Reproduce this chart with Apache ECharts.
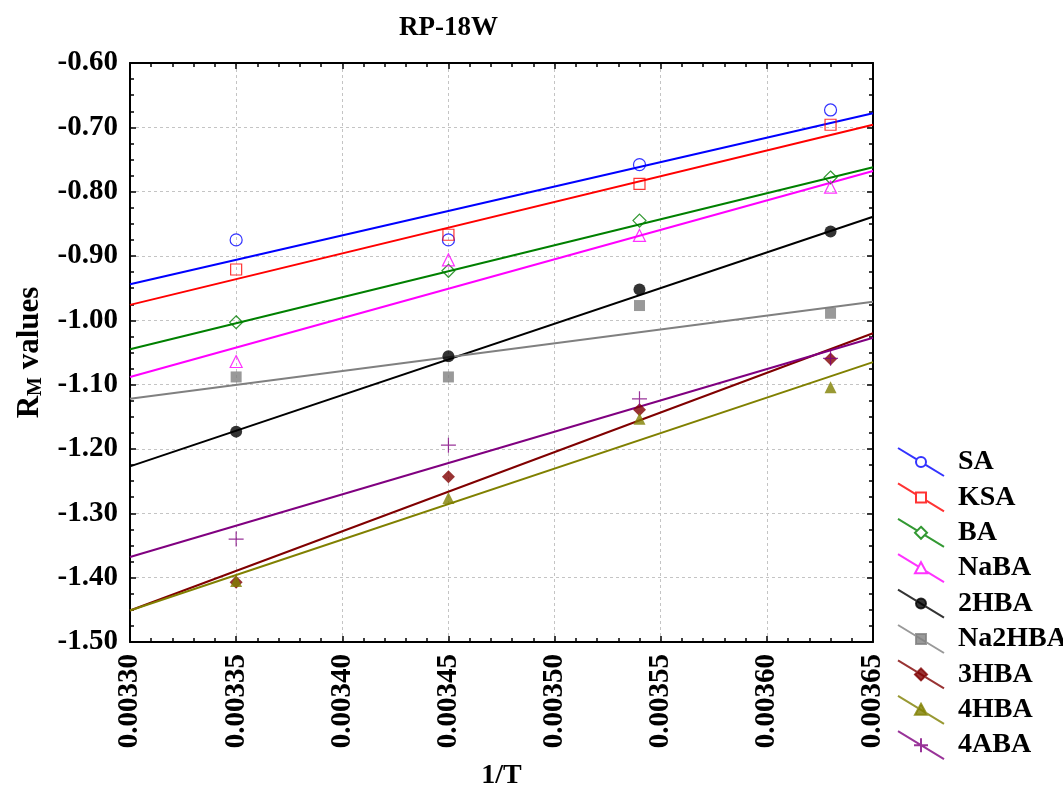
<!DOCTYPE html>
<html>
<head>
<meta charset="utf-8">
<title>RP-18W</title>
<script src="https://cdn.jsdelivr.net/npm/echarts@6/dist/echarts.min.js"></script>
<style>
  html, body { margin: 0; padding: 0; background: #ffffff; }
  #chart { width: 1063px; height: 789px; }
</style>
</head>
<body>
<div id="chart"></div>
<script>
// 1/T values where R_M was measured
const invT = [0.00335, 0.00345, 0.00354, 0.00363];

// Measured R_M values, one array per compound
const SA     = [-0.875, -0.875, -0.758, -0.673];
const KSA    = [-0.921, -0.867, -0.788, -0.696];
const BA     = [-1.003, -0.923, -0.845, -0.778];
const NaBA   = [-1.064, -0.906, -0.868, -0.793];
const HBA2   = [-1.173, -1.056, -0.952, -0.862];
const Na2HBA = [-1.088, -1.088, -0.977, -0.989];
const HBA3   = [-1.407, -1.243, -1.139, -1.060];
const HBA4   = [-1.405, -1.276, -1.153, -1.104];
const ABA4   = [-1.340, -1.194, -1.122, -1.059];

// Fitted straight lines: R_M at both ends of the 1/T range
const fitX = [0.00330, 0.00365];
const SA_fit     = [-0.944, -0.678];
const KSA_fit    = [-0.976, -0.696];
const BA_fit     = [-1.045, -0.762];
const NaBA_fit   = [-1.088, -0.768];
const HBA2_fit   = [-1.227, -0.839];
const Na2HBA_fit = [-1.122, -0.971];
const HBA3_fit   = [-1.451, -1.020];
const HBA4_fit   = [-1.451, -1.065];
const ABA4_fit   = [-1.368, -1.027];

const names = ['SA', 'KSA', 'BA', 'NaBA', '2HBA', 'Na2HBA', '3HBA', '4HBA', '4ABA'];
const points = [SA, KSA, BA, NaBA, HBA2, Na2HBA, HBA3, HBA4, ABA4];
const fits = [SA_fit, KSA_fit, BA_fit, NaBA_fit, HBA2_fit, Na2HBA_fit, HBA3_fit, HBA4_fit, ABA4_fit];

const xTicks = { min: 0.00330, max: 0.00365, step: 0.00005 };
const yTicks = { min: -1.50, max: -0.60, step: 0.10 };

// Drawing styles per compound
const styles = [
  { color: '#0000ff', symbol: 'circle',  hollow: true },
  { color: '#ff0000', symbol: 'rect',    hollow: true },
  { color: '#008000', symbol: 'diamond', hollow: true },
  { color: '#ff00ff', symbol: 'triangle', hollow: true },
  { color: '#000000', symbol: 'circle',  hollow: false },
  { color: '#808080', symbol: 'rect',    hollow: false },
  { color: '#800000', symbol: 'diamond', hollow: false },
  { color: '#808000', symbol: 'triangle', hollow: false },
  { color: '#800080', symbol: 'cross',   hollow: true }
];

const crossPath = 'path://M0 7 L14 7 M7 0 L7 14';
const symbolSizes = { circle: 12, rect: 11, diamond: 13, triangle: 12, cross: 15 };

// Legend icons: a slanted line with the marker in the middle (46 x 28 box)
const legendIcons = {
  circle_h: 'path://M0 0 L18.73 11.40 M27.27 16.60 L46 28 M28 14 A5 5 0 1 1 18 14 A5 5 0 1 1 28 14 Z',
  circle_f: 'path://M0 0 L46 28 M28 14 A5 5 0 1 1 18 14 A5 5 0 1 1 28 14 Z',
  rect_h: 'path://M0 0 L18 10.96 M28 17.04 L46 28 M18 9 L28 9 L28 19 L18 19 Z',
  rect_f: 'path://M0 0 L46 28 M18 9 L28 9 L28 19 L18 19 Z',
  diamond_h: 'path://M0 0 L19.27 11.73 M26.73 16.27 L46 28 M23 8 L29 14 L23 20 L17 14 Z',
  diamond_f: 'path://M0 0 L46 28 M23 8 L29 14 L23 20 L17 14 Z',
  triangle_h: 'path://M0 0 L20.54 12.50 M27.90 16.98 L46 28 M23 8 L29 19 L17 19 Z',
  triangle_f: 'path://M0 0 L46 28 M23 8 L29 19 L17 19 Z',
  cross_h: 'path://M0 0 L46 28 M16 14 L30 14 M23 7 L23 21'
};

const FONT = 'Liberation Serif';
const textBase = { fontFamily: FONT, fontWeight: 'bold', color: '#000000' };

const series = [];
const legendData = [];

names.forEach(function (name, i) {
  const st = styles[i];
  const sym = st.symbol === 'cross' ? crossPath : st.symbol;
  series.push({
    name: name,
    type: 'scatter',
    z: 4,
    symbol: sym,
    symbolSize: symbolSizes[st.symbol],
    itemStyle: {
      color: st.hollow ? 'transparent' : st.color,
      borderColor: st.color,
      borderWidth: st.hollow ? 1.2 : 0
    },
    data: invT.map(function (x, k) { return [x, points[i][k]]; })
  });
  series.push({
    name: name,
    type: 'line',
    z: 3,
    showSymbol: false,
    symbol: 'none',
    lineStyle: { color: st.color, width: 2 },
    itemStyle: { color: st.color },
    data: fitX.map(function (x, k) { return [x, fits[i][k]]; })
  });
  const key = st.symbol + (st.hollow ? '_h' : '_f');
  legendData.push({
    name: name,
    icon: legendIcons[key],
    itemStyle: {
      color: st.hollow ? '#ffffff' : st.color,
      borderColor: st.color,
      borderWidth: 2
    }
  });
});

const gridLine = { show: true, lineStyle: { color: '#c4c4c4', type: [3, 3], width: 1 } };
const axisLineStyle = { show: true, lineStyle: { color: '#000000', width: 2 } };
const tickStyle = { color: '#000', width: 1.5 };

const chart = echarts.init(document.getElementById('chart'), null, { renderer: 'canvas' });
chart.setOption({
  animation: false,
  backgroundColor: '#ffffff',
  title: {
    text: 'RP-18W',
    left: 394,
    top: 10,
    textStyle: Object.assign({ fontSize: 27 }, textBase)
  },
  grid: {
    left: 130, right: 190, top: 63, bottom: 147,
    containLabel: false,
    outerBoundsMode: 'none'
  },
  legend: {
    orient: 'vertical',
    left: 897,
    top: 447,
    padding: 0,
    itemWidth: 46,
    itemHeight: 28,
    itemGap: 5.4,
    selectedMode: false,
    data: legendData,
    textStyle: Object.assign({ fontSize: 28, lineHeight: 28, padding: [0, 0, 0, 9] }, textBase)
  },
  xAxis: [
    {
      type: 'value',
      position: 'bottom',
      min: xTicks.min,
      max: xTicks.max,
      interval: xTicks.step,
      name: '1/T',
      nameLocation: 'middle',
      nameGap: 120,
      nameTextStyle: Object.assign({ fontSize: 28 }, textBase),
      axisLine: axisLineStyle,
      axisTick: { show: true, inside: true, length: 6, lineStyle: tickStyle },
      minorTick: { show: true, splitNumber: 5, length: 4, lineStyle: tickStyle },
      splitLine: gridLine,
      axisLabel: Object.assign({
        fontSize: 29,
        rotate: 90,
        margin: 12,
        formatter: function (v) { return v.toFixed(5); }
      }, textBase)
    },
    {
      type: 'value',
      position: 'top',
      min: xTicks.min,
      max: xTicks.max,
      interval: xTicks.step,
      axisLine: axisLineStyle,
      axisTick: { show: true, inside: true, length: 6, lineStyle: tickStyle },
      minorTick: { show: true, splitNumber: 5, length: 4, lineStyle: tickStyle },
      splitLine: { show: false },
      axisLabel: { show: false }
    }
  ],
  yAxis: [
    {
      type: 'value',
      position: 'left',
      min: yTicks.min,
      max: yTicks.max,
      interval: yTicks.step,
      name: '{r|R}{sub|M}{r| values}',
      nameLocation: 'middle',
      nameRotate: 90,
      nameGap: 84,
      nameTextStyle: {
        rich: {
          r: Object.assign({ fontSize: 31 }, textBase),
          sub: Object.assign({ fontSize: 20, padding: [12, 0, 0, 0] }, textBase)
        }
      },
      axisLine: axisLineStyle,
      axisTick: { show: true, inside: true, length: 6, lineStyle: tickStyle },
      minorTick: { show: true, splitNumber: 4, length: 4, lineStyle: tickStyle },
      splitLine: gridLine,
      axisLabel: Object.assign({
        fontSize: 29,
        margin: 12,
        formatter: function (v) { return v.toFixed(2); }
      }, textBase)
    },
    {
      type: 'value',
      position: 'right',
      min: yTicks.min,
      max: yTicks.max,
      interval: yTicks.step,
      axisLine: axisLineStyle,
      axisTick: { show: true, inside: true, length: 6, lineStyle: tickStyle },
      minorTick: { show: true, splitNumber: 4, length: 4, lineStyle: tickStyle },
      splitLine: { show: false },
      axisLabel: { show: false }
    }
  ],
  series: series
});
</script>
</body>
</html>
